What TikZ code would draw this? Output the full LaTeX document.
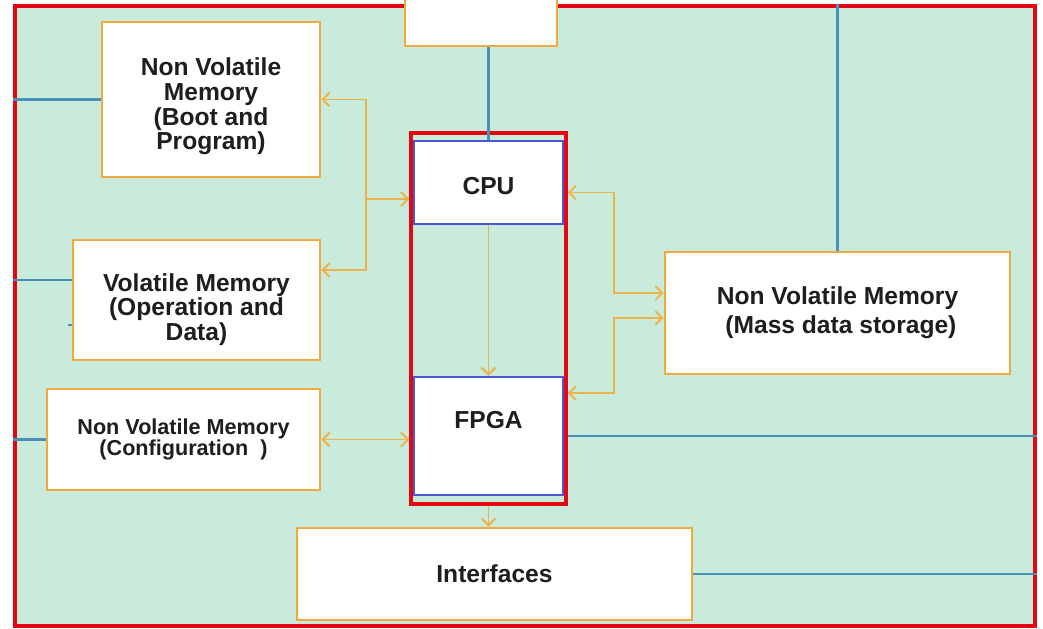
\documentclass[tikz,border=0pt]{standalone}
\usepackage{fontspec}
\setmainfont{Liberation Sans}
\usepackage{tikz}
\usepackage{xcolor}
\usetikzlibrary{arrows.meta}
\definecolor{board-green}{HTML}{C9EBDC}
\definecolor{box-orange}{HTML}{F2A93B}
\definecolor{bus-orange}{HTML}{EDB24A}
\definecolor{wire-blue}{HTML}{4A8FB5}
\definecolor{chip-blue}{HTML}{4B55D8}
\definecolor{frame-red}{HTML}{E30613}
\definecolor{label-gray}{HTML}{1E1E1E}
\tikzset{
    frame-box/.style = {draw=frame-red, fill=board-green, line width=2pt, rectangle},
    mem-box/.style = {draw=box-orange, fill=white, line width=1.5pt, rectangle, align=center, text=label-gray},
    chip-box/.style = {draw=chip-blue, fill=white, line width=1.2pt, rectangle, align=center, text=label-gray, font=\fontsize{14}{16}\selectfont\bfseries},
    soc-box/.style = {draw=frame-red, line width=2pt, rectangle},
    big-text/.style = {font=\fontsize{14}{16.4}\selectfont\bfseries},
    boot-text/.style = {font=\fontsize{14}{14}\selectfont\bfseries},
    vol-text/.style = {font=\fontsize{14}{12.7}\selectfont\bfseries},
    small-text/.style = {font=\fontsize{12.3}{11.4}\selectfont\bfseries},
    wire/.style = {draw=wire-blue, line width=1.4pt},
    bus/.style = {draw=bus-orange, line width=1.1pt, >={Straight Barb[length=4pt,width=8pt]}},
}
\begin{document}
\begin{tikzpicture}[x=0.02cm, y=-0.02cm]
\clip (0,0) rectangle (1043,628);
\node [frame-box, minimum width=20.4cm, minimum height=12.4cm] (frame) at (525,316) {};
\node [mem-box, minimum width=3.04cm, minimum height=1.44cm] (top) at (481,10) {};
\node [mem-box, boot-text, minimum width=4.36cm, minimum height=3.1cm] (boot) at (211,99.5) {\rule{0pt}{18pt}Non Volatile\\Memory\\(Boot and\\Program)};
\node [mem-box, vol-text, minimum width=4.94cm, minimum height=2.4cm] (vol) at (196.5,300) {\rule{0pt}{21pt}Volatile Memory\\(Operation and\\Data)};
\node [mem-box, small-text, minimum width=5.46cm, minimum height=2.02cm] (cfg) at (183.5,439.5) {Non Volatile Memory\\(Configuration~~)};
\node [soc-box, minimum width=3.1cm, minimum height=7.42cm] (soc) at (488.5,318.5) {};
\node [chip-box, minimum width=2.98cm, minimum height=1.66cm] (cpu) at (488.5,182.5) {\rule{0pt}{14pt}CPU};
\node [chip-box, minimum width=2.98cm, minimum height=2.36cm, text depth=0.64cm] (fpga) at (488.5,436) {FPGA};
\node [mem-box, big-text, minimum width=6.9cm, minimum height=2.44cm] (mass) at (837.5,313) {Non Volatile Memory\\~(Mass data storage)};
\node [mem-box, big-text, minimum width=7.9cm, minimum height=1.84cm] (intf) at (494.5,574) {Interfaces};

\draw [wire] (boot.west) -- (boot.west -| frame.west);
\draw [wire] ([yshift=0.4cm]vol.west) -- ([yshift=0.4cm]vol.west -| frame.west);
\draw [wire] ([yshift=-0.5cm]vol.west) -- ++(-0.08cm,0);
\draw [wire] (cfg.west) -- (cfg.west -| frame.west);
\draw [wire] (cpu.north) -- (cpu.north |- top.south);
\draw [wire] (mass.north) -- (mass.north |- frame.north);
\draw [wire] (fpga.east -| soc.east) -- (fpga.east -| frame.east);
\draw [wire] (intf.east) -- (intf.east -| frame.east);

\coordinate (lbus) at (366,199);
\draw [bus, <->] (boot.east) -| (lbus) |- ([yshift=0.6cm]vol.east);
\draw [bus, ->] (lbus) -- (lbus -| soc.west);
\draw [bus, <->] (cfg.east) -- (cfg.east -| soc.west);
\draw [bus, ->] (cpu.south) -- (fpga.north);
\draw [bus, ->] (soc.south) -- (soc.south |- intf.north);
\draw [bus, <->] ([yshift=-0.2cm]cpu.east -| soc.east) -- ++(0.92cm,0) |- ([yshift=0.4cm]mass.west);
\draw [bus, <->] ([yshift=0.86cm]fpga.east -| soc.east) -- ++(0.92cm,0) |- ([yshift=-0.1cm]mass.west);
\end{tikzpicture}
\end{document}
